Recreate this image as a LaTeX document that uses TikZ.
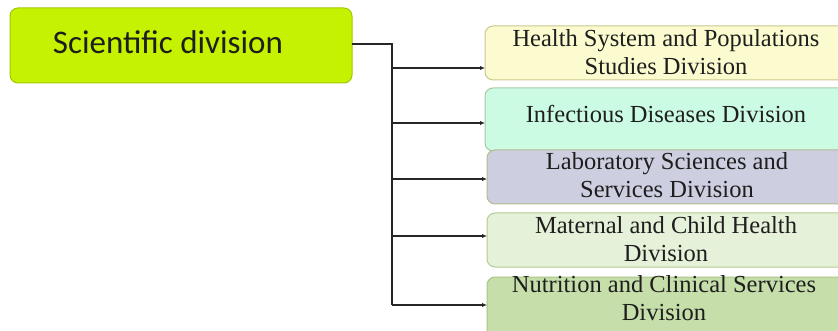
\documentclass[tikz,border=0pt]{standalone}
\usepackage{fontspec}
\setmainfont{Liberation Serif}
\newfontfamily\calib{Carlito}
\usetikzlibrary{arrows.meta}
\definecolor{mainfill}{HTML}{C5F200}
\definecolor{maindraw}{HTML}{A0C800}
\definecolor{cA}{HTML}{FBFBCF}
\definecolor{cB}{HTML}{CCFBE4}
\definecolor{cC}{HTML}{CDCFE0}
\definecolor{cD}{HTML}{E6F1D9}
\definecolor{cE}{HTML}{C6DEAA}
\definecolor{bA}{HTML}{C9C98E}
\definecolor{bB}{HTML}{A9C9A0}
\definecolor{bC}{HTML}{B5B98E}
\definecolor{bD}{HTML}{B5CC8E}
\definecolor{bE}{HTML}{A8C484}
\definecolor{txt}{HTML}{1E1E1E}
\begin{document}
\begin{tikzpicture}[x=1pt,y=-1pt,
  mainbox/.style={draw=maindraw,fill=mainfill,rounded corners=8pt,line width=1pt},
  divbox/.style={rounded corners=8pt,line width=1pt},
  divtext/.style={align=center,font=\fontsize{24.5}{27.5}\selectfont,inner sep=0pt,text=txt},
  conn/.style={line width=1.2pt,draw=black!85},
  arr/.style={conn,-{Latex[length=5pt,width=4.5pt]}}]
\useasboundingbox (0,0) rectangle (838,331);
% main box
\draw[mainbox] (10,8) rectangle (352,83);
\node[font=\calib\fontsize{33}{36}\selectfont,text=txt,inner sep=0pt,anchor=base] (main) at (168,53.3) {Scientific division};
\coordinate (mr) at (352,44);
% division boxes
\draw[divbox,draw=bA,fill=cA] (485,26) rectangle (848,80);
\draw[divbox,draw=bB,fill=cB] (485,88) rectangle (848,151);
\draw[divbox,draw=bC,fill=cC] (487,150) rectangle (848,204);
\draw[divbox,draw=bD,fill=cD] (487,213) rectangle (848,267);
\draw[divbox,draw=bE,fill=cE] (487,277) rectangle (848,345);
\coordinate (dA) at (485,68);
\coordinate (dB) at (485,123);
\coordinate (dC) at (487,179);
\coordinate (dD) at (487,236);
\coordinate (dE) at (487,305);
\node[divtext] (tA) at (666,52.2) {Health System and Populations\\Studies Division};
\node[divtext,anchor=base] (tB) at (666,122.3) {Infectious Diseases Division};
\node[divtext] (tC) at (667,175.3) {Laboratory Sciences and\\Services Division};
\node[divtext] (tD) at (666,239) {Maternal and Child Health\\Division};
\node[divtext] (tE) at (664,298) {Nutrition and Clinical Services\\Division};
% connectors
\coordinate (trunk) at (392,44);
\draw[conn] (mr) -- (trunk) -- (392,305);
\draw[arr] (392,68) -- (dA);
\draw[arr] (392,123) -- (dB);
\draw[arr] (392,179) -- (dC);
\draw[arr] (392,236) -- (dD);
\draw[arr] (392,305) -- (dE);
\end{tikzpicture}
\end{document}
